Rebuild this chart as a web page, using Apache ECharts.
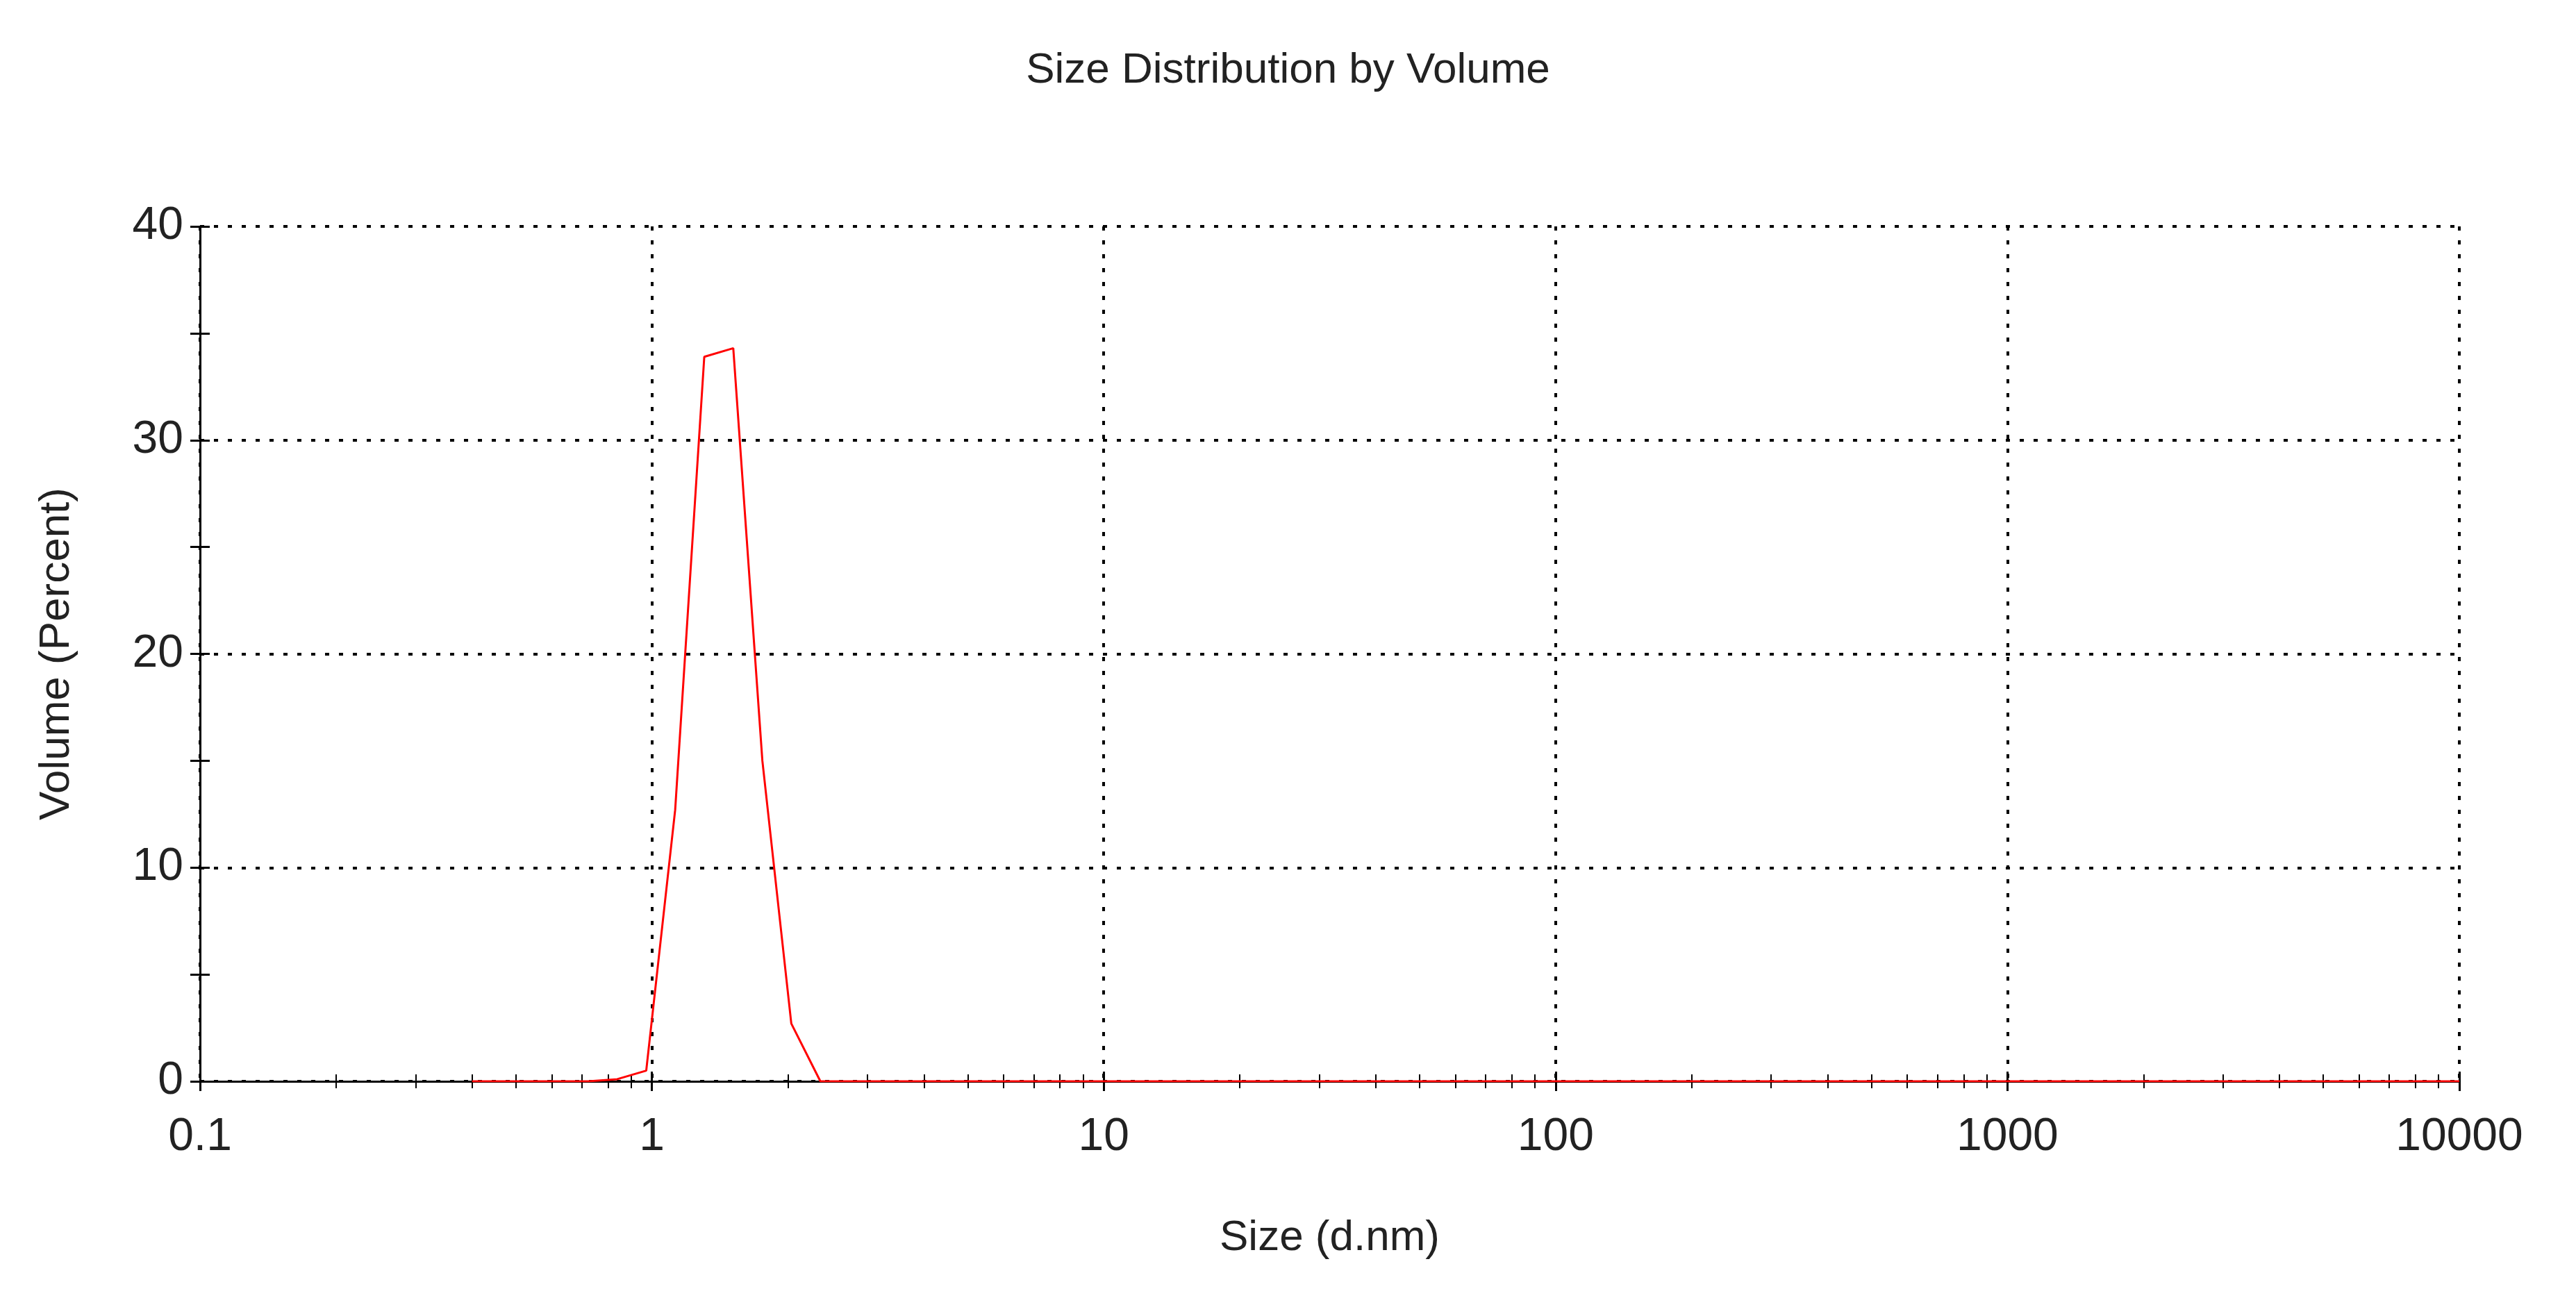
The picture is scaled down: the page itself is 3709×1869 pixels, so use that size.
<!DOCTYPE html>
<html><head><meta charset="utf-8">
<script src="https://cdn.jsdelivr.net/npm/echarts@6/dist/echarts.min.js"></script>
<style>html,body{margin:0;padding:0;background:#fff}#c{width:3709px;height:1869px}</style>
</head><body><div id="c"></div>
<script>
const sizes = [0.4,0.4638,0.5377,0.6234,0.7228,0.8380,0.9716,1.126,1.306,1.514,1.756,2.035,2.360,2.736,3.172,3.677,4.264,4.943,5.731,6.645,7.704,8.932,10.36,12.01,13.92,16.14,18.71,21.69,25.15,29.16,33.81,39.20,45.45,52.69,61.09,70.83,82.11,95.20,110.4,128.0,148.4,172.0,199.4,231.2,268.1,310.8,360.4,417.7,484.3,561.5,651.0,754.8,875.1,1015,1176,1364,1581,1834,2126,2465,2858,3313,3841,4454,5163,5986,6941,8047,9330,10000];
const volume = [0,0,0,0,0,0.1,0.5,12.7,33.9,34.3,15.0,2.7,0,0,0,0,0,0,0,0,0,0,0,0,0,0,0,0,0,0,0,0,0,0,0,0,0,0,0,0,0,0,0,0,0,0,0,0,0,0,0,0,0,0,0,0,0,0,0,0,0,0,0,0,0,0,0,0,0,0];
const yTicks = [0,10,20,30,40];
const font = 'Arial, "Liberation Sans", sans-serif';
const chart = echarts.init(document.getElementById('c'));
const axisLine = {show:true, lineStyle:{color:'#000', width:3}};
chart.setOption({
  animation:false,
  title:{text:'Size Distribution by Volume', left:'center', top:66, textStyle:{fontFamily:font, fontSize:62, fontWeight:'normal', color:'#222'}},
  grid:{left:288, right:152+16, top:326, bottom:312},
  xAxis:[{type:'log', logBase:10, min:0.1, max:10000,
    name:'Size (d.nm)', nameLocation:'middle', nameGap:195, nameTextStyle:{fontFamily:font, fontSize:62, color:'#222'},
    axisLine:axisLine, axisTick:{show:true, length:14, lineStyle:{color:'#000', width:3}},
    minorTick:{show:true, splitNumber:9, length:10, lineStyle:{color:'#000', width:2}},
    axisLabel:{fontFamily:font, fontSize:66, color:'#222', margin:48, formatter:v=>String(v)},
    splitLine:{show:true, lineStyle:{color:'#000', type:[6,14], width:4}}},
   {type:'log', logBase:10, min:0.1, max:10000, position:'bottom', gridIndex:0,
    axisLine:{show:false}, axisLabel:{show:false}, splitLine:{show:false},
    axisTick:{show:true, inside:true, length:14, lineStyle:{color:'#000', width:3}},
    minorTick:{show:true, splitNumber:9, length:10, lineStyle:{color:'#000', width:2}}}],
  yAxis:[{type:'value', min:0, max:40, interval:10,
    name:'Volume (Percent)', nameLocation:'middle', nameGap:175, nameTextStyle:{fontFamily:font, fontSize:62, color:'#222'},
    axisLine:axisLine, axisTick:{show:true, length:14, lineStyle:{color:'#000', width:3}},
    minorTick:{show:true, splitNumber:2, length:14, lineStyle:{color:'#000', width:3}},
    axisLabel:{fontFamily:font, fontSize:66, color:'#222', margin:24, formatter:v=>yTicks.includes(v)?String(v):''},
    splitLine:{show:true, lineStyle:{color:'#000', type:[6,14], width:4}}},
   {type:'value', min:0, max:40, interval:10, position:'left',
    axisLine:{show:false}, axisLabel:{show:false}, splitLine:{show:false},
    axisTick:{show:true, inside:true, length:14, lineStyle:{color:'#000', width:3}},
    minorTick:{show:true, splitNumber:2, length:14, lineStyle:{color:'#000', width:3}}}],
  series:[{type:'line', xAxisIndex:0, yAxisIndex:0, data:sizes.map((s,i)=>[s,volume[i]]), showSymbol:false,
    lineStyle:{color:'#ff0000', width:3}}]
});
</script></body></html>
